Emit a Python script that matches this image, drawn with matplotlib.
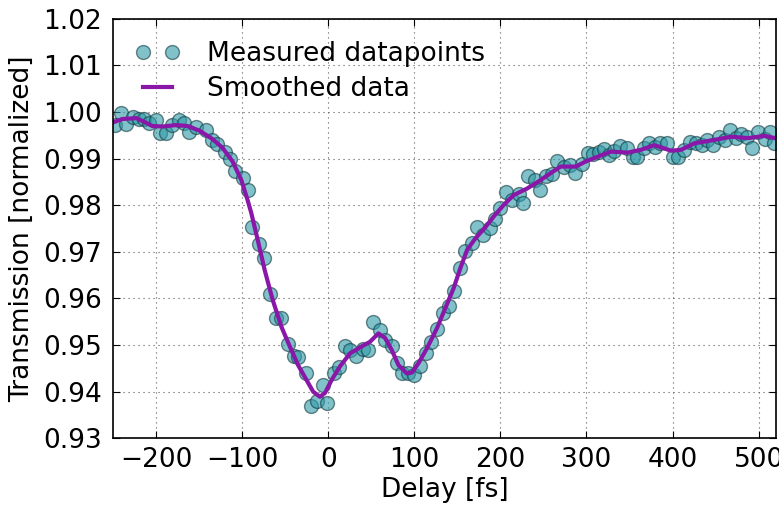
import matplotlib
matplotlib.use("Agg")
import matplotlib.pyplot as plt
import numpy as np

# measured pump-probe trace
delay = [-247.4, -240.8, -234.6, -226.5, -219.5, -213.6, -207.8, -200.0, -195.0, -188.3,
         -181.0, -172.8, -167.0, -161.2, -153.0, -141.7, -134.4, -128.6, -120.4, -114.6,
         -108.7, -99.4, -93.6, -88.1, -80.4, -74.6, -67.1, -60.1, -54.3, -47.0,
         -40.0, -34.7, -26.0, -20.5, -13.5, -6.5, -1.2, 6.6, 12.8, 19.5,
         25.9, 32.6, 40.8, 46.6, 52.4, 60.3, 66.1, 73.9, 79.7, 85.5,
         92.9, 99.1, 106.1, 113.3, 119.9, 126.3, 133.7, 139.9, 146.2, 153.1,
         159.0, 167.1, 173.0, 179.7, 187.6, 193.4, 199.3, 207.1, 213.8, 221.1,
         226.0, 232.4, 239.7, 245.9, 253.1, 260.4, 266.2, 273.9, 280.5, 286.4,
         294.5, 301.2, 307.9, 314.0, 319.8, 326.3, 332.4, 339.2, 347.0, 353.6,
         358.6, 367.1, 373.0, 380.0, 385.8, 393.6, 400.2, 406.8, 413.1, 420.7,
         427.4, 434.0, 440.2, 446.9, 453.4, 460.4, 466.2, 473.2, 479.8, 486.8,
         492.3, 499.3, 507.0, 512.8, 517.9]
trans = [0.9972, 0.9997, 0.9974, 0.9989, 0.9985, 0.9985, 0.9977, 0.9982, 0.9956, 0.9956,
         0.9972, 0.9982, 0.9977, 0.9958, 0.9968, 0.9962, 0.9939, 0.9932, 0.9915, 0.9899,
         0.9874, 0.9859, 0.9833, 0.9754, 0.9717, 0.9686, 0.9609, 0.9558, 0.9558, 0.9502,
         0.9477, 0.9474, 0.9439, 0.9369, 0.9379, 0.9415, 0.9376, 0.9439, 0.9452, 0.9498,
         0.9489, 0.9476, 0.9491, 0.9489, 0.9550, 0.9532, 0.9511, 0.9497, 0.9461, 0.9439,
         0.9439, 0.9435, 0.9456, 0.9482, 0.9507, 0.9535, 0.9569, 0.9583, 0.9616, 0.9665,
         0.9701, 0.9720, 0.9754, 0.9737, 0.9751, 0.9770, 0.9795, 0.9828, 0.9811, 0.9825,
         0.9805, 0.9862, 0.9854, 0.9833, 0.9863, 0.9867, 0.9895, 0.9883, 0.9886, 0.9870,
         0.9888, 0.9912, 0.9909, 0.9915, 0.9920, 0.9907, 0.9917, 0.9928, 0.9922, 0.9903,
         0.9903, 0.9922, 0.9933, 0.9926, 0.9934, 0.9934, 0.9904, 0.9904, 0.9919, 0.9936,
         0.9934, 0.9929, 0.9940, 0.9929, 0.9946, 0.9940, 0.9962, 0.9944, 0.9953, 0.9947,
         0.9922, 0.9958, 0.9942, 0.9958, 0.9934]

# smoothed curve
sm_delay = [-251.0, -239.3, -223.0, -216.0, -204.3, -192.6, -176.3, -163.5, -149.5, -134.4,
            -122.7, -111.1, -100.9, -93.6, -89.3, -81.9, -73.8, -64.5, -54.3, -44.6,
            -35.0, -25.2, -17.5, -9.7, -3.8, 4.0, 13.6, 25.3, 36.9, 48.6,
            58.3, 66.1, 73.9, 81.6, 91.4, 97.2, 104.9, 114.7, 126.3, 136.0,
            145.7, 153.5, 161.3, 171.0, 182.6, 192.3, 204.0, 215.6, 231.2, 246.7,
            258.4, 270.0, 287.5, 299.2, 312.8, 328.3, 347.8, 363.3, 378.8, 398.3,
            409.9, 425.4, 444.9, 468.2, 487.6, 507.0, 518.7]
sm_trans = [0.9977, 0.9985, 0.9987, 0.9981, 0.9970, 0.9969, 0.9972, 0.9970, 0.9960, 0.9942,
            0.9923, 0.9894, 0.9854, 0.9811, 0.9783, 0.9726, 0.9661, 0.9597, 0.9539, 0.9497,
            0.9457, 0.9425, 0.9400, 0.9389, 0.9397, 0.9425, 0.9454, 0.9482, 0.9495, 0.9507,
            0.9525, 0.9515, 0.9489, 0.9457, 0.9439, 0.9441, 0.9461, 0.9493, 0.9536, 0.9579,
            0.9622, 0.9665, 0.9704, 0.9729, 0.9753, 0.9776, 0.9801, 0.9822, 0.9836, 0.9854,
            0.9869, 0.9883, 0.9883, 0.9894, 0.9904, 0.9915, 0.9913, 0.9919, 0.9929, 0.9917,
            0.9919, 0.9933, 0.9939, 0.9947, 0.9944, 0.9949, 0.9944]

plt.rcParams['font.family'] = 'DejaVu Sans'
plt.rcParams['font.size'] = 19
plt.rcParams['xtick.direction'] = 'in'
plt.rcParams['ytick.direction'] = 'in'
plt.rcParams['xtick.top'] = True
plt.rcParams['ytick.right'] = True
plt.rcParams['xtick.major.size'] = 5
plt.rcParams['ytick.major.size'] = 5
plt.rcParams['xtick.major.pad'] = 6
plt.rcParams['ytick.major.pad'] = 8

fig = plt.figure(figsize=(7.79, 5.09), dpi=100)
ax = fig.add_axes([0.145, 0.139, 0.851, 0.824])

ax.plot(delay, trans, 'o', ms=10, mfc='#2e9aa8', mec='#123a40', mew=1,
        alpha=0.6, label='Measured datapoints')
ax.plot(sm_delay, sm_trans, '-', color='#8a17a8', lw=3, label='Smoothed data')

ax.set_xlim(-250, 520)
ax.set_ylim(0.93, 1.02)
ax.set_xticks(np.arange(-200, 501, 100))
ax.set_yticks(np.arange(0.93, 1.0201, 0.01))
ax.set_yticklabels(['%.2f' % v for v in np.arange(0.93, 1.0201, 0.01)])
ax.grid(True, color='0.35', linestyle=(0, (1, 3.5)), linewidth=0.8)
for s in ax.spines.values():
    s.set_linewidth(1.2)

ax.set_xlabel('Delay [fs]', labelpad=3)
ax.set_ylabel('Transmission [normalized]', labelpad=6)
ax.legend(loc='upper left', numpoints=2, frameon=False, fontsize=19,
          handlelength=1.7, handletextpad=1.0, labelspacing=0.35,
          borderaxespad=0.4, borderpad=0.45)

fig.savefig('out.png', dpi=100)
